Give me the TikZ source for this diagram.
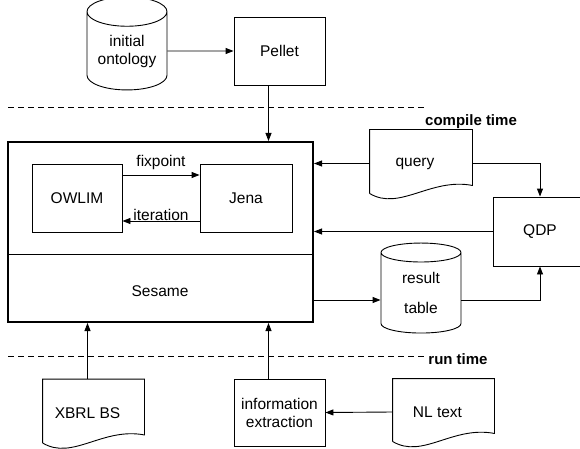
\documentclass[tikz,border=0pt]{standalone}
\usepackage{fontspec}
\setmainfont{Liberation Sans}
\usetikzlibrary{shapes.geometric,arrows.meta,calc}

\begin{document}
\begin{tikzpicture}[x=1pt,y=-1pt,line width=0.9pt,
  font=\fontsize{15.5}{18}\selectfont,
  >={Triangle[length=8pt,width=6pt]},
  every node/.style={inner sep=0pt,align=center},
  box/.style={draw,rectangle,minimum width=91pt,minimum height=68pt},
  store/.style={draw,cylinder,shape border rotate=90,aspect=0.5,minimum width=80pt},
  doc/.style={rectangle,minimum width=101pt,minimum height=67pt},
  sep/.style={dash pattern=on 6pt off 4pt},
  phase/.style={font=\fontsize{15}{18}\selectfont\bfseries}]
\useasboundingbox (0,0) rectangle (580,449);

\node[store,minimum height=93pt] (onto) at (127,51) {initial\\ontology};
\node[box] (pellet) at (279.5,51) {Pellet};

\node[draw,line width=2pt,minimum width=305pt,minimum height=180pt] (sys) at (160.5,232) {};
\node[box,minimum width=90pt] (owlim) at (77,198) {OWLIM};
\node[box,minimum width=92pt] (jena) at (246,198) {Jena};
\node (sesame) at (160,291) {Sesame};
\draw (sys.west |- 0,254) -- (sys.east |- 0,254);

\node[doc,minimum width=102pt] (query) at (421,163.5) {query\kern12pt};
\node[box,minimum width=94pt,minimum height=69pt] (qdp) at (540,231.5) {QDP};
\node[store,minimum height=90pt] (result) at (421,293) {result\\[12pt]table};

\node[doc] (xbrl) at (93.5,413) {XBRL BS\kern12pt};
\node[box,minimum height=67pt] (info) at (279.5,412.5) {information\\extraction};
\node[doc,minimum height=66pt] (nltext) at (443.5,412) {NL text\kern12pt};

\foreach \d in {query,xbrl,nltext}
  \draw ($(\d.south west)+(0,-4)$) -- (\d.north west) -- (\d.north east)
    -- ($(\d.south east)+(0,-12)$) .. controls ($(\d.south east)+(-42,-20)$)
    and ($(\d.south west)+(30,14)$) .. ($(\d.south west)+(0,-4)$);

\draw[sep] (8,107) -- (427,107);
\draw[sep] (8,356) -- (427,356);
\node[phase] (compile) at (471,122) {compile time};
\node[phase] (run) at (458,359) {run time};

\draw[->] (onto) -- (pellet);
\draw[->] ([xshift=-11pt]pellet.south) -- ([xshift=-11pt]pellet.south |- sys.north);
\draw[->] ([yshift=23pt]owlim.east) -- ([yshift=23pt]jena.west)
  node[midway,above=5pt] {fixpoint};
\draw[->] ([yshift=-23pt]jena.west) -- ([yshift=-23pt]owlim.east)
  node[midway,above] {iteration};
\draw[->] (query.west) -- (query.west -| sys.east);
\draw[->] (query.east) -| (qdp.north);
\draw[->] (qdp.west) -- (qdp.west -| sys.east);
\draw[->] ([yshift=-7pt]result.west -| sys.east) -- ([yshift=-7pt]result.west);
\draw[->] ([yshift=-7pt]result.east) -| (qdp.south);
\draw[->] ([xshift=-6pt]xbrl.north) -- ([xshift=-6pt]xbrl.north |- sys.south);
\draw[->] ([xshift=-11pt]info.north) -- ([xshift=-11pt]info.north |- sys.south);
\draw[->] (nltext.west) -- (info.east);
\end{tikzpicture}
\end{document}
